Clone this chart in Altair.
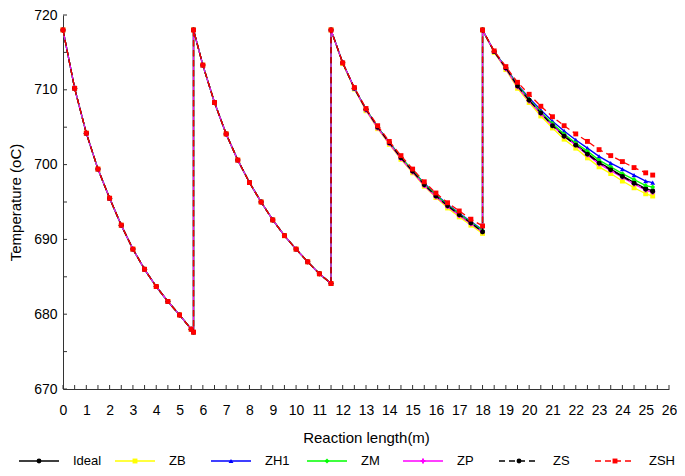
import altair as alt
import pandas as pd

# ---------------- data ----------------
names = ["Ideal", "ZB", "ZH1", "ZM", "ZP", "ZS", "ZSH"]
colors = ["#000000", "#FFFF00", "#0000FF", "#00FF00", "#FF00FF", "#000000", "#FF0000"]
dashes = [[1, 0], [1, 0], [1, 0], [1, 0], [1, 0], [6, 4], [6, 4]]
shapes = ["circle", "square", "triangle-up", "diamond", "cross", "circle", "square"]

# bed 1 and bed 2: all cases coincide
stage1_x = [0, 0.5, 1, 1.5, 2, 2.5, 3, 3.5, 4, 4.5, 5, 5.5, 5.6]
stage1_T = [718, 710.2, 704.2, 699.4, 695.5, 691.9, 688.7, 686.0, 683.7, 681.7, 679.9, 678.0, 677.6]
stage2_x = [5.6, 6, 6.5, 7, 7.5, 8, 8.5, 9, 9.5, 10, 10.5, 11, 11.5]
stage2_T = [718, 713.3, 708.3, 704.1, 700.6, 697.6, 695.0, 692.6, 690.5, 688.7, 687.0, 685.4, 684.1]

# bed 3
stage3_x = [11.5, 12, 12.5, 13, 13.5, 14, 14.5, 15, 15.5, 16, 16.5, 17, 17.5, 18]
stage3_T = {
    "Ideal": [718, 713.6, 710.2, 707.4, 705.0, 702.9, 700.9, 699.1, 697.3, 695.8, 694.5, 693.3, 692.2, 691.0],
    "ZB":    [718, 713.5, 710.1, 707.2, 704.8, 702.7, 700.7, 698.9, 697.1, 695.6, 694.2, 693.0, 691.9, 690.8],
    "ZH1":   [718, 713.6, 710.2, 707.4, 705.0, 703.0, 701.0, 699.2, 697.5, 696.0, 694.7, 693.5, 692.4, 691.3],
    "ZM":    [718, 713.6, 710.2, 707.4, 705.0, 702.9, 701.0, 699.2, 697.4, 695.9, 694.6, 693.4, 692.3, 691.2],
    "ZP":    [718, 713.6, 710.2, 707.3, 704.9, 702.8, 700.8, 699.0, 697.2, 695.7, 694.4, 693.2, 692.1, 691.0],
    "ZS":    [718, 713.6, 710.2, 707.4, 705.0, 702.9, 700.9, 699.1, 697.3, 695.8, 694.5, 693.3, 692.2, 691.0],
    "ZSH":   [718, 713.6, 710.3, 707.5, 705.2, 703.1, 701.2, 699.4, 697.7, 696.2, 694.9, 693.8, 692.7, 691.8],
}

# bed 4
stage4_x = [18, 18.5, 19, 19.5, 20, 20.5, 21, 21.5, 22, 22.5, 23, 23.5, 24, 24.5, 25, 25.3]
stage4_T = {
    "Ideal": [718, 715.1, 712.9, 710.5, 708.6, 706.9, 705.3, 703.9, 702.7, 701.5, 700.3, 699.4, 698.5, 697.6, 696.8, 696.5],
    "ZB":    [718, 715.0, 712.7, 710.2, 708.3, 706.5, 704.9, 703.4, 702.2, 700.9, 699.7, 698.8, 697.8, 696.9, 696.1, 695.8],
    "ZH1":   [718, 715.1, 713.0, 710.7, 708.9, 707.3, 705.8, 704.5, 703.3, 702.2, 701.1, 700.2, 699.4, 698.6, 697.8, 697.6],
    "ZM":    [718, 715.1, 712.9, 710.6, 708.7, 707.0, 705.5, 704.1, 702.9, 701.8, 700.6, 699.7, 698.8, 698.0, 697.2, 697.0],
    "ZP":    [718, 715.1, 712.8, 710.4, 708.5, 706.8, 705.2, 703.8, 702.6, 701.3, 700.1, 699.2, 698.3, 697.4, 696.6, 696.3],
    "ZS":    [718, 715.1, 712.9, 710.5, 708.6, 706.9, 705.2, 703.8, 702.6, 701.4, 700.2, 699.3, 698.4, 697.5, 696.7, 696.4],
    "ZSH":   [718, 715.2, 713.1, 711.0, 709.4, 707.8, 706.4, 705.2, 704.1, 703.1, 702.0, 701.2, 700.4, 699.6, 698.9, 698.6],
}

x_labels = list(range(0, 27))
y_labels = list(range(670, 721, 10))
x_minor = [k * 0.5 for k in range(0, 53)]
y_minor = list(range(670, 721, 5))

# ---------------- style ----------------
W, H = 606, 374
FONT = "Liberation Sans"
AXC = "#333333"

x_scale = alt.Scale(domain=[0, 26], nice=False, zero=False)
y_scale = alt.Scale(domain=[670, 720], nice=False, zero=False)

x_axis = alt.Axis(title="Reaction length(m)", values=x_labels, ticks=False, labelPadding=14,
                  titlePadding=13, labelFlush=False, labelOverlap=False, grid=False,
                  domainColor=AXC, labelColor="#000000", titleColor="#000000",
                  labelFontSize=14, titleFontSize=15, labelFont=FONT, titleFont=FONT,
                  titleFontWeight="normal")
y_axis = alt.Axis(title="Temperature (oC)", values=y_labels, ticks=False, labelPadding=6,
                  titlePadding=10, labelFlush=False, labelOverlap=False, grid=False,
                  domainColor=AXC, labelColor="#000000", titleColor="#000000",
                  labelFontSize=14, titleFontSize=15, labelFont=FONT, titleFont=FONT,
                  titleFontWeight="normal")

X = alt.X("x:Q", scale=x_scale, axis=x_axis)
Y = alt.Y("T:Q", scale=y_scale, axis=y_axis)

# ---------------- main plot ----------------
xt = alt.Chart(pd.DataFrame({"x": x_minor})).mark_rule(color=AXC, strokeWidth=1).encode(
    x=X, y=alt.value(H), y2=alt.value(H - 4))
yt = alt.Chart(pd.DataFrame({"T": y_minor})).mark_rule(color=AXC, strokeWidth=1).encode(
    y=Y, x=alt.value(0), x2=alt.value(4))

layers = [xt, yt]
xs = stage1_x + stage2_x + stage3_x + stage4_x
for i, n in enumerate(names):
    Ts = stage1_T + stage2_T + stage3_T[n] + stage4_T[n]
    df = pd.DataFrame({"x": xs, "T": Ts, "i": list(range(len(xs)))})
    base = alt.Chart(df)
    line_kw = dict(color=colors[i], strokeWidth=1.3)
    if dashes[i] != [1, 0]:
        line_kw["strokeDash"] = dashes[i]
    line = base.mark_line(**line_kw).encode(x=X, y=Y, order="i:Q")
    pts = base.mark_point(shape=shapes[i], filled=True, color=colors[i], size=24, opacity=1).encode(x=X, y=Y)
    layers += [line, pts]

main = alt.layer(*layers).properties(width=W, height=H)

# ---------------- legend row ----------------
leg_df = pd.DataFrame({"name": names})
LX = alt.X("name:N", sort=names,
           scale=alt.Scale(type="point", domain=names, range=[-24, 552], padding=0), axis=None)
col = alt.Color("name:N", scale=alt.Scale(domain=names, range=colors), legend=None)
dsh = alt.StrokeDash("name:N", scale=alt.Scale(domain=names, range=dashes), legend=None)
shp = alt.Shape("name:N", scale=alt.Scale(domain=names, range=shapes), legend=None)

leg_rule = alt.Chart(leg_df).mark_rule(xOffset=-20, x2Offset=20, strokeWidth=1.3).encode(
    x=LX, x2="name:N", y=alt.value(5), color=col, strokeDash=dsh)
leg_pts = alt.Chart(leg_df).mark_point(filled=True, size=24, opacity=1).encode(
    x=LX, y=alt.value(5), color=col, shape=shp)
leg_txt = alt.Chart(leg_df).mark_text(align="left", baseline="middle", dx=34, fontSize=13,
                                      font=FONT, color="#000000").encode(
    x=LX, y=alt.value(5), text="name:N")

legend = alt.layer(leg_rule, leg_pts, leg_txt).properties(width=W, height=10)

chart = alt.vconcat(main, legend, spacing=10, padding=0, background="white").configure_view(stroke=None)

chart.save("out.html", embed_options={"renderer": "svg", "actions": False})
